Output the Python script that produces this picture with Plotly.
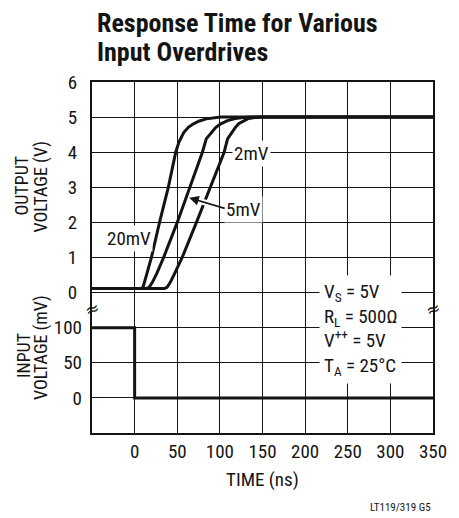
import plotly.graph_objects as go

# ---- data ----
time_ticks = [0, 50, 100, 150, 200, 250, 300, 350]
out_ticks = [0, 1, 2, 3, 4, 5, 6]
in_ticks = [0, 50, 100]

t_20mv = [-50, 8, 10, 13, 19.7, 29.2, 39.5, 48.2, 52, 57.6, 63, 69, 76, 84, 92, 101, 350]
v_20mv = [0.12, 0.12, 0.16, 0.4, 1.0, 2.0, 3.0, 4.0, 4.29, 4.56, 4.71, 4.81, 4.89, 4.95, 4.98, 5.0, 5.0]

t_5mv = [-50, 14, 17, 21, 26, 34, 50, 64.5, 72, 79.5, 84, 90, 95, 101, 109, 118, 127, 137, 350]
v_5mv = [0.12, 0.12, 0.15, 0.3, 0.55, 1.0, 2.0, 3.0, 3.5, 4.0, 4.38, 4.56, 4.7, 4.81, 4.9, 4.96, 4.99, 5.0, 5.0]

t_2mv = [-50, 35, 38, 42, 47, 55.8, 72.5, 88.8, 97, 105, 109, 113.6, 118, 122, 128, 133.6, 141, 149, 350]
v_2mv = [0.12, 0.12, 0.15, 0.3, 0.55, 1.0, 2.0, 3.0, 3.5, 4.0, 4.38, 4.56, 4.7, 4.81, 4.9, 4.96, 4.99, 5.0, 5.0]

t_in = [-50, 0, 0, 350]
v_in = [100, 100, 0, 0]

FONT = "Liberation Sans Narrow, Roboto Condensed, DejaVu Sans Condensed, Arial Narrow, sans-serif"
INK = "#141414"

fig = go.Figure()
for t, v in [(t_20mv, v_20mv), (t_5mv, v_5mv), (t_2mv, v_2mv)]:
    fig.add_trace(go.Scatter(x=t, y=v, mode="lines", line=dict(color=INK, width=3),
                             yaxis="y", showlegend=False, hoverinfo="skip"))
fig.add_trace(go.Scatter(x=t_in, y=v_in, mode="lines", line=dict(color=INK, width=3),
                         yaxis="y2", showlegend=False, hoverinfo="skip"))

L, R, T, B = 92, 16, 82, 85
W, H = 459, 518
PW, PH = W - L - R, H - T - B


def px(x):
    return (x - L) / PW


def py(y):
    return (H - B - y) / PH


ann = []
# title
ann.append(dict(text="<b>Response Time for Various</b>", x=px(95), y=py(23), xref="paper", yref="paper",
                xanchor="left", yanchor="middle", showarrow=False, font=dict(size=26, family=FONT, color=INK)))
ann.append(dict(text="<b>Input Overdrives</b>", x=px(95), y=py(52), xref="paper", yref="paper",
                xanchor="left", yanchor="middle", showarrow=False, font=dict(size=26, family=FONT, color=INK)))
# axis titles
for txt, cx, cy in [("OUTPUT", 18.5, 186), ("VOLTAGE (V)", 38.5, 187.5),
                    ("INPUT", 21, 356), ("VOLTAGE (mV)", 39.5, 347)]:
    ann.append(dict(text=txt, x=px(cx), y=py(cy), xref="paper", yref="paper", textangle=-90,
                    xanchor="center", yanchor="middle", showarrow=False,
                    font=dict(size=18, family=FONT, color=INK)))
ann.append(dict(text="TIME (ns)", x=px(267), y=py(479), xref="paper", yref="paper",
                xanchor="center", yanchor="middle", showarrow=False, font=dict(size=19, family=FONT, color=INK)))
ann.append(dict(text="LT119/319 G5", x=px(443), y=py(508), xref="paper", yref="paper",
                xanchor="right", yanchor="middle", showarrow=False, font=dict(size=11, family=FONT, color=INK)))
# break marks
for bx in [92, 443]:
    ann.append(dict(text="≈", x=px(bx), y=py(309), xref="paper", yref="paper",
                    xanchor="center", yanchor="middle", showarrow=False, textangle=-20,
                    font=dict(size=17, family="DejaVu Sans", color=INK)))
# curve labels
for txt, x, y in [("20mV", -6.8, 1.54), ("2mV", 136.8, 3.95), ("5mV", 127.6, 2.36)]:
    ann.append(dict(text=txt, x=x, y=y, xref="x", yref="y", showarrow=False, bgcolor="white",
                    borderpad=1, font=dict(size=19, family=FONT, color=INK)))
# arrow for 5mV
ann.append(dict(text="", x=64.0, y=2.70, xref="x", yref="y", showarrow=True, axref="pixel", ayref="pixel",
                ax=37, ay=11, arrowhead=2, arrowsize=1.2, arrowwidth=1.6, arrowcolor=INK, standoff=0))
# conditions
ann.append(dict(text="V<sub>S</sub> = 5V<br>R<sub>L</sub> = 500Ω<br>V<sup>++</sup> = 5V<br>T<sub>A</sub> = 25°C",
                x=265, y=-1.05, xref="x", yref="y", showarrow=False, align="left", bgcolor="white",
                borderpad=4, font=dict(size=19, family=FONT, color=INK)))

fig.update_layout(
    width=W, height=H, margin=dict(l=L, r=R, t=T, b=B),
    paper_bgcolor="white", plot_bgcolor="white",
    font=dict(family=FONT, color=INK, size=19),
    xaxis=dict(range=[-50, 350], tickvals=time_ticks, showgrid=True, gridcolor=INK, gridwidth=1,
               zeroline=False, showline=True, mirror=True, linecolor=INK, linewidth=2,
               ticks="", ticklabelstandoff=0, tickfont=dict(size=19)),
    yaxis=dict(range=[-4, 6], tickvals=out_ticks, showgrid=True, gridcolor=INK, gridwidth=1,
               zeroline=False, showline=True, mirror=True, linecolor=INK, linewidth=2,
               ticks="", ticklabelstandoff=9, tickfont=dict(size=19)),
    yaxis2=dict(range=[-50, 450], tickvals=in_ticks, overlaying="y", side="left", showgrid=True,
                gridcolor=INK, gridwidth=1, zeroline=False, showline=False,
                ticks="", ticklabelstandoff=9, tickfont=dict(size=19)),
    annotations=ann,
    shapes=[dict(type="line", xref="x", yref="y", x0=70, y0=2.65, x1=97, y1=2.47,
                 line=dict(color="white", width=6), layer="above")],
)

fig.write_html("out.html", config={"displayModeBar": False},
               post_script="document.body.style.margin='0';document.body.style.overflow='hidden';")
